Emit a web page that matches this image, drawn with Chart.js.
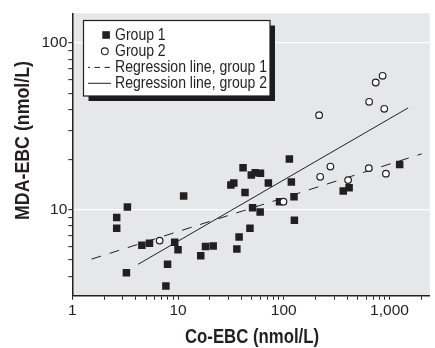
<!DOCTYPE html>
<html><head><meta charset="utf-8">
<script src="https://cdn.jsdelivr.net/npm/chart.js@4.4.0/dist/chart.umd.min.js"></script>
<style>html,body{margin:0;padding:0;background:#fff;}#wrap{width:435px;height:348px;}</style>
</head><body><div id="wrap"><canvas id="c" width="435" height="348"></canvas></div>
<script>
// ---- data ----
const group1X = [2.63, 2.63, 3.32, 3.25, 4.55, 5.37, 9.3, 10.0, 7.96, 7.68, 11.3, 16.4, 18.2, 21.5, 31.6, 33.7, 36.0, 37.8, 41.2, 43.0, 47.9, 49.3, 53.7, 50.7, 59.8, 60.2, 71.5, 91.2, 113, 118, 125, 126, 365, 415, 1248];
const group1Y = [9.0, 7.76, 10.4, 4.2, 6.14, 6.31, 6.4, 5.78, 4.72, 3.5, 12.1, 5.32, 6.03, 6.08, 14.1, 14.5, 5.83, 6.89, 17.9, 12.7, 7.76, 16.2, 16.7, 10.3, 9.73, 16.6, 14.5, 11.2, 20.2, 14.7, 12.0, 8.67, 13.0, 13.6, 18.7];
const group2X = [6.70, 99.3, 216, 221, 276, 406, 642, 637, 741, 861, 892, 925];
const group2Y = [6.55, 11.2, 37.0, 15.8, 18.2, 15.1, 44.5, 17.8, 58.1, 63.7, 40.4, 16.5];
const reg1X = [1.52, 2020];
const reg1Y = [5.07, 21.7];
const reg2X = [4.19, 1500];
const reg2Y = [4.72, 40.9];
const seriesNames = ['Group 1', 'Group 2', 'Regression line, group 1', 'Regression line, group 2'];
const xTicks = [1, 2, 3, 4, 5, 6, 7, 8, 9, 10, 20, 30, 40, 50, 60, 70, 80, 90, 100, 200, 300, 400, 500, 600, 700, 800, 900, 1000, 2000];
const xTickLabels = {1: '1', 10: '10', 100: '100', 1000: '1,000'};
const yTicks = [4, 5, 6, 7, 8, 9, 10, 20, 30, 40, 50, 60, 70, 80, 90, 100];
const yTickLabels = {10: '10', 100: '100'};
const xTitle = 'Co-EBC (nmol/L)';
const yTitle = 'MDA-EBC (nmol/L)';

const FONT = '"Liberation Sans", Arial, sans-serif';
const INK = '#231f20';
const toPts = (xs, ys) => xs.map((x, i) => ({x: x, y: ys[i]}));

// draw text compressed horizontally (condensed look) to a target width
function condensedText(ctx, text, font, cx, cy, targetW, align, rot) {
  ctx.save();
  ctx.font = font;
  const w = ctx.measureText(text).width;
  const sx = Math.min(1, targetW / w);
  ctx.translate(cx, cy);
  if (rot) ctx.rotate(rot);
  ctx.scale(sx, 1);
  ctx.textAlign = align;
  ctx.textBaseline = 'middle';
  ctx.fillText(text, 0, 0);
  ctx.restore();
}

const bgPlugin = {
  id: 'plotBg',
  beforeDraw(chart) {
    const a = chart.chartArea, ctx = chart.ctx;
    ctx.save();
    ctx.fillStyle = '#e6e7e8';
    ctx.fillRect(a.left, a.top, a.right - a.left, a.bottom - a.top);
    ctx.restore();
  }
};

const overlayPlugin = {
  id: 'overlay',
  afterDraw(chart) {
    const ctx = chart.ctx;
    const a = chart.chartArea;
    ctx.fillStyle = INK;
    // axis titles
    condensedText(ctx, xTitle, 'bold 19.5px ' + FONT, (a.left + a.right) / 2 + 1, 337.5, 134, 'center', 0);
    condensedText(ctx, yTitle, 'bold 19.5px ' + FONT, 23.5, 140.5, 159, 'center', -Math.PI / 2);

    // legend box with shadow
    const bx = 83.5, by = 20.5, bw = 186.5, bh = 75.5;
    ctx.save();
    ctx.fillStyle = '#1c1c1c';
    ctx.fillRect(bx + 5, by + 5, bw, bh);
    ctx.fillStyle = '#ffffff';
    ctx.fillRect(bx, by, bw, bh);
    ctx.strokeStyle = INK;
    ctx.lineWidth = 1.2;
    ctx.strokeRect(bx, by, bw, bh);

    const rows = [35, 51.3, 67.4, 83.3];
    const ds = chart.data.datasets;
    ctx.fillStyle = INK;
    ctx.fillRect(102.3, rows[0] - 3.8, 7.6, 7.6);
    ctx.beginPath();
    ctx.arc(104.8, rows[1], 3.4, 0, Math.PI * 2);
    ctx.fillStyle = '#fff'; ctx.fill();
    ctx.lineWidth = 1.1; ctx.strokeStyle = INK; ctx.stroke();
    ctx.beginPath();
    ctx.setLineDash([5.5, 4.5]); ctx.lineDashOffset = 3.5;
    ctx.moveTo(88, rows[2]); ctx.lineTo(110.5, rows[2]);
    ctx.lineWidth = 1; ctx.stroke();
    ctx.setLineDash([]);
    ctx.beginPath();
    ctx.moveTo(88, rows[3]); ctx.lineTo(111, rows[3]); ctx.stroke();
    ctx.restore();

    // legend texts, same condensing factor for all rows
    const lf = '17px ' + FONT;
    ctx.save();
    ctx.font = lf;
    const sx = 152 / ctx.measureText(ds[2].label).width;
    ctx.restore();
    ctx.fillStyle = INK;
    const order = [1, 0, 2, 3];
    order.forEach((di, r) => {
      ctx.save();
      ctx.font = lf;
      const w = ctx.measureText(ds[di].label).width;
      ctx.restore();
      condensedText(ctx, ds[di].label, lf, 115, rows[r], w * sx, 'left', 0);
    });
  }
};

new Chart(document.getElementById('c'), {
  type: 'scatter',
  data: {
    datasets: [
      {label: seriesNames[1], data: toPts(group2X, group2Y), pointStyle: 'circle', pointRadius: 3.3, pointBackgroundColor: '#ffffff', pointBorderColor: INK, pointBorderWidth: 1.2, showLine: false, order: 1},
      {label: seriesNames[0], data: toPts(group1X, group1Y), pointStyle: 'rect', pointRadius: 5.3, pointBackgroundColor: INK, pointBorderWidth: 0, showLine: false, order: 2},
      {label: seriesNames[2], data: toPts(reg1X, reg1Y), showLine: true, pointRadius: 0, borderColor: INK, borderWidth: 1, borderDash: [10, 9], order: 3},
      {label: seriesNames[3], data: toPts(reg2X, reg2Y), showLine: true, pointRadius: 0, borderColor: INK, borderWidth: 1, order: 4}
    ]
  },
  options: {
    responsive: false,
    animation: false,
    devicePixelRatio: 1,
    layout: {padding: {top: 13.3, left: 0, right: 0, bottom: 0}},
    plugins: {legend: {display: false}, tooltip: {enabled: false}},
    scales: {
      x: {
        type: 'logarithmic', min: 1, max: 2400,
        afterBuildTicks: s => { s.ticks = xTicks.map(v => ({value: v})); },
        afterFit: s => { s.height = 52.3; },
        ticks: {autoSkip: false, maxRotation: 0, padding: 2, color: INK, font: {family: FONT, size: 15.5},
          callback: v => xTickLabels[v] || ''},
        grid: {drawOnChartArea: false, tickLength: 4, tickColor: INK, tickWidth: 1},
        border: {display: true, color: INK, width: 1.5},
        title: {display: false}
      },
      y: {
        type: 'logarithmic', min: 3.06, max: 151,
        afterBuildTicks: s => { s.ticks = yTicks.map(v => ({value: v})); },
        afterFit: s => { s.width = 72.3; },
        ticks: {autoSkip: false, padding: 1, color: INK, font: {family: FONT, size: 15.5},
          callback: v => yTickLabels[v] || ''},
        grid: {drawOnChartArea: true, lineWidth: 1.3, tickLength: 4, tickColor: INK, tickWidth: 1,
          color: c => (c.tick && yTickLabels[c.tick.value]) ? '#ffffff' : 'rgba(0,0,0,0)'},
        border: {display: true, color: INK, width: 1.5},
        title: {display: false}
      }
    }
  },
  plugins: [bgPlugin, overlayPlugin]
});
</script>
</body></html>
